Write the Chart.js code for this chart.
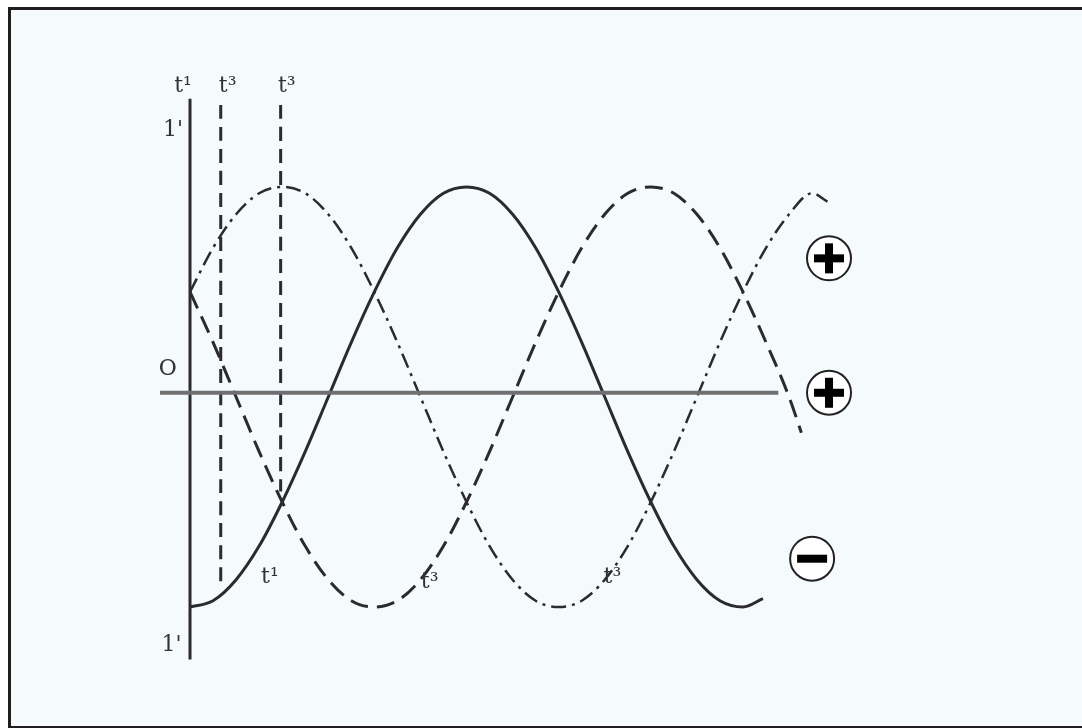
<!DOCTYPE html>
<html>
<head>
<meta charset="utf-8">
<script src="https://cdn.jsdelivr.net/npm/chart.js@4"></script>
<style>
  html, body { margin: 0; padding: 0; background: #ffffff; }
  #frame {
    position: absolute; left: 8px; top: 7px; width: 1074px; height: 716px;
    background: #f5fafc;
    border-left: 3px solid #1e1e1e; border-top: 3px solid #1e1e1e; border-bottom: 3px solid #1e1e1e;
  }
  #myChart { position: absolute; left: 0; top: 0; }
</style>
</head>
<body>
<div id="frame"></div>
<canvas id="myChart" width="1082" height="728"></canvas>
<script>
// angles in degrees, values relative to amplitude
const solidX = [0, 15, 30, 45, 60, 75, 90, 105, 120, 135, 150, 165, 180, 195, 210, 225, 240, 255, 270, 285, 300, 315, 330, 345, 360, 373];
const solidY = [-1, -0.97, -0.87, -0.71, -0.5, -0.26, 0, 0.26, 0.5, 0.71, 0.87, 0.97, 1, 0.97, 0.87, 0.71, 0.5, 0.26, 0, -0.26, -0.5, -0.71, -0.87, -0.97, -1, -0.96];

const dashDotX = [0, 15, 30, 45, 60, 75, 90, 105, 120, 135, 150, 165, 180, 195, 210, 225, 240, 255, 270, 285, 300, 315, 330, 345, 360, 375, 390, 405, 415];
const dashDotY = [0.5, 0.71, 0.87, 0.97, 1, 0.97, 0.87, 0.71, 0.5, 0.26, 0, -0.26, -0.5, -0.71, -0.87, -0.97, -1, -0.97, -0.87, -0.71, -0.5, -0.26, 0, 0.26, 0.5, 0.71, 0.87, 0.97, 0.93];

const dashedX = [0, 15, 30, 45, 60, 75, 90, 105, 120, 135, 150, 165, 180, 195, 210, 225, 240, 255, 270, 285, 300, 315, 330, 345, 360, 375, 390, 398];
const dashedY = [0.5, 0.26, 0, -0.26, -0.5, -0.71, -0.87, -0.97, -1, -0.97, -0.87, -0.71, -0.5, -0.26, 0, 0.26, 0.5, 0.71, 0.87, 0.97, 1, 0.97, 0.87, 0.71, 0.5, 0.26, 0, -0.17];

// axes and guide lines: [x1, y1, x2, y2]
const axisV = [0, 1.42, 0, -1.25];
const axisH = [-19.5, 0.02, 383, 0.02];
const guide1 = [20, 1.39, 20, -0.88];
const guide2 = [59, 1.39, 59, -0.45];

// labels: text, angle, value
const labels = [
  ['t¹', -4.5, 1.48], ['t³', 24.5, 1.48], ['t³', 63, 1.48],
  ['1\'', -11, 1.27], ['O', -14.5, 0.13], ['1\'', -12, -1.18],
  ['t¹', 52, -0.86], ['t³', 156, -0.88], ['t³', 275, -0.86]
];
// sign markers: sign, angle, value
const signs = [['+', 416, 0.66], ['+', 416, 0.02], ['-', 405, -0.77]];

function pts(xs, ys) {
  return xs.map((x, i) => ({ x: x, y: ys[i] }));
}
function seg(s) {
  return [{ x: s[0], y: s[1] }, { x: s[2], y: s[3] }];
}

const ink = '#2b2b2b';

const overlay = {
  id: 'overlay',
  afterDatasetsDraw(chart) {
    const c = chart.ctx;
    const xs = chart.scales.x, ys = chart.scales.y;
    c.save();
    c.fillStyle = '#333';
    c.font = '22px "DejaVu Serif"';
    c.textAlign = 'center';
    c.textBaseline = 'middle';
    labels.forEach(l => c.fillText(l[0], xs.getPixelForValue(l[1]), ys.getPixelForValue(l[2])));
    signs.forEach(s => {
      const px = xs.getPixelForValue(s[1]), py = ys.getPixelForValue(s[2]);
      c.beginPath();
      c.arc(px, py, 22, 0, Math.PI * 2);
      c.fillStyle = '#ffffff';
      c.fill();
      c.lineWidth = 2;
      c.strokeStyle = '#222';
      c.stroke();
      c.fillStyle = '#000';
      c.fillRect(px - 15, py - 4, 30, 8);
      if (s[0] === '+') c.fillRect(px - 4, py - 15, 8, 30);
    });
    c.restore();
  }
};

const line = (data, opts) => Object.assign({
  data: data, borderColor: ink, borderWidth: 3, pointRadius: 0,
  fill: false, cubicInterpolationMode: 'monotone'
}, opts);

new Chart(document.getElementById('myChart').getContext('2d'), {
  type: 'line',
  data: {
    datasets: [
      line(seg(axisH), { borderColor: '#6f6f6f', borderWidth: 4 }),
      line(seg(axisV), { borderWidth: 3 }),
      line(seg(guide1), { borderDash: [14, 8] }),
      line(seg(guide2), { borderDash: [14, 8] }),
      line(pts(solidX, solidY), {}),
      line(pts(dashDotX, dashDotY), { borderDash: [15, 6, 3, 6], borderWidth: 2.5 }),
      line(pts(dashedX, dashedY), { borderDash: [18, 9] })
    ]
  },
  options: {
    responsive: false,
    animation: false,
    layout: { padding: 0 },
    plugins: { legend: { display: false }, tooltip: { enabled: false } },
    scales: {
      x: { type: 'linear', min: -123.7, max: 580.7, display: false },
      y: { min: -1.576, max: 1.890, display: false }
    }
  },
  plugins: [overlay]
});
</script>
</body>
</html>
